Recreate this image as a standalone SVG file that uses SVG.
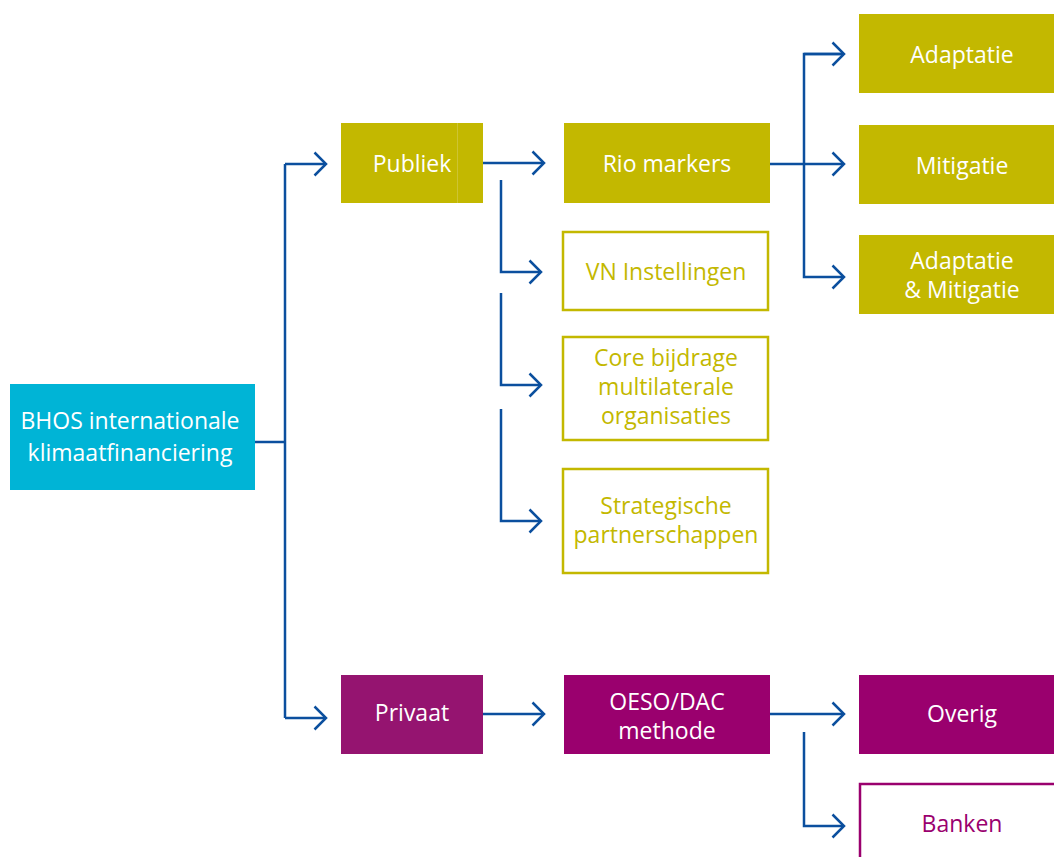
<svg xmlns="http://www.w3.org/2000/svg" width="1054" height="857" viewBox="0 0 1054 857">
<style>
.c{fill:none;stroke:#0b4f9e;stroke-width:2.5}
.t{font-family:"Open Sans","Noto Sans",sans-serif;font-size:23px;text-anchor:middle}
.w{fill:#ffffff}
.g{fill:#c3b800}
.p{fill:#9a006e}
.go{fill:#ffffff;stroke:#c3b800;stroke-width:2.5}
.po{fill:#ffffff;stroke:#9a006e;stroke-width:2.5}
</style>
<defs>
<marker id="a" markerUnits="userSpaceOnUse" markerWidth="16" markerHeight="28" refX="13" refY="13" orient="auto" viewBox="0 0 16 28">
<path d="M1.5,1.5 L13,13 L1.5,24.5" fill="none" stroke="#0b4f9e" stroke-width="2.5"/>
</marker>
</defs>
<g id="connectors">
<path class="c" d="M255,442 H285"/>
<path class="c" d="M285,164 V718"/>
<path class="c" d="M285,164 H326" marker-end="url(#a)"/>
<path class="c" d="M285,718 H326" marker-end="url(#a)"/>
<path class="c" d="M483,163 H544" marker-end="url(#a)"/>
<path class="c" d="M501,180 V272 H541" marker-end="url(#a)"/>
<path class="c" d="M501,293 V385 H541" marker-end="url(#a)"/>
<path class="c" d="M501,409 V521 H541" marker-end="url(#a)"/>
<path class="c" d="M770,164 H844" marker-end="url(#a)"/>
<path class="c" d="M844,54 H804 V277 H844" marker-end="url(#a)"/>
<path class="c" d="M804,54 H844" marker-end="url(#a)"/>
<path class="c" d="M483,714 H544" marker-end="url(#a)"/>
<path class="c" d="M770,714 H844" marker-end="url(#a)"/>
<path class="c" d="M804,732 V826 H844" marker-end="url(#a)"/>
</g>
<g id="bhos">
<rect x="10" y="384" width="245" height="106" fill="#00b4d6"/>
<text class="t w" x="130" y="429">BHOS internationale</text>
<text class="t w" x="130" y="461">klimaatfinanciering</text>
</g>
<g id="publiek">
<rect x="341" y="123" width="142" height="80" fill="#c3b800"/>
<line x1="457.5" y1="123" x2="457.5" y2="203" stroke="#cdc433" stroke-width="1"/>
<text class="t w" x="412" y="172">Publiek</text>
</g>
<g id="rio">
<rect x="564" y="123" width="206" height="80" fill="#c3b800"/>
<text class="t w" x="667" y="172">Rio markers</text>
</g>
<g id="vn">
<rect class="go" x="563" y="232" width="205" height="78"/>
<text class="t g" x="666" y="280">VN Instellingen</text>
</g>
<g id="core">
<rect class="go" x="563" y="337" width="205" height="103"/>
<text class="t g" x="666" y="366">Core bijdrage</text>
<text class="t g" x="666" y="395">multilaterale</text>
<text class="t g" x="666" y="424">organisaties</text>
</g>
<g id="strategisch">
<rect class="go" x="563" y="469" width="205" height="104"/>
<text class="t g" x="666" y="514">Strategische</text>
<text class="t g" x="666" y="543">partnerschappen</text>
</g>
<g id="adaptatie">
<rect x="859" y="14" width="195" height="79" fill="#c3b800"/>
<text class="t w" x="962" y="63">Adaptatie</text>
</g>
<g id="mitigatie">
<rect x="859" y="125" width="195" height="79" fill="#c3b800"/>
<text class="t w" x="962" y="174">Mitigatie</text>
</g>
<g id="adaptatie-mitigatie">
<rect x="859" y="235" width="195" height="79" fill="#c3b800"/>
<text class="t w" x="962" y="269">Adaptatie</text>
<text class="t w" x="962" y="298">&amp; Mitigatie</text>
</g>
<g id="privaat">
<rect x="341" y="675" width="142" height="79" fill="#951470"/>
<text class="t w" x="412" y="721">Privaat</text>
</g>
<g id="oeso">
<rect x="564" y="675" width="206" height="79" fill="#9a006e"/>
<text class="t w" x="667" y="710">OESO/DAC</text>
<text class="t w" x="667" y="739">methode</text>
</g>
<g id="overig">
<rect x="859" y="675" width="195" height="79" fill="#9a006e"/>
<text class="t w" x="962" y="722">Overig</text>
</g>
<g id="banken">
<rect class="po" x="860" y="784" width="200" height="80"/>
<text class="t p" x="962" y="832">Banken</text>
</g>
</svg>
